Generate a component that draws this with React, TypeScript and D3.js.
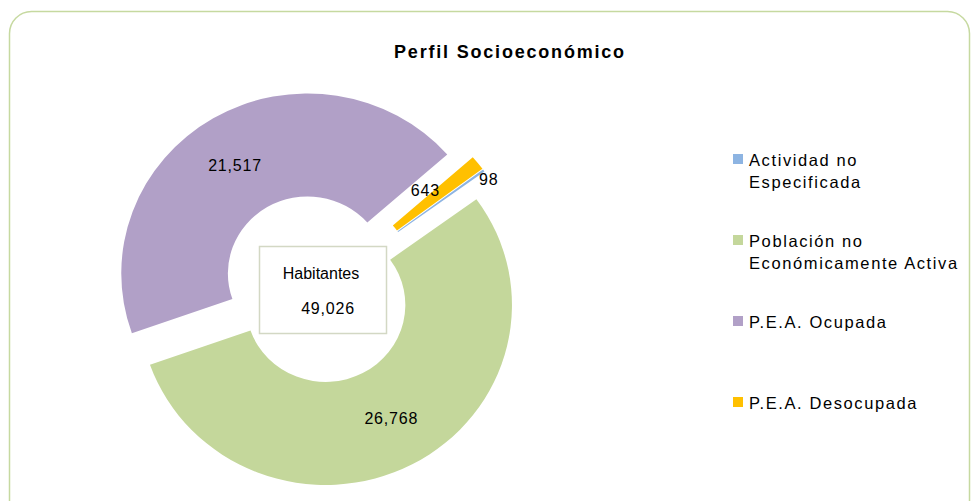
import React from 'react';
import * as d3 from 'd3';

// ---- data ----
const categories = [
  'Actividad no Especificada',
  'Población no Económicamente Activa',
  'P.E.A. Ocupada',
  'P.E.A. Desocupada',
];
const legendLines = [
  ['Actividad no', 'Especificada'],
  ['Población no', 'Económicamente Activa'],
  ['P.E.A. Ocupada'],
  ['P.E.A. Desocupada'],
];
const values = [98, 26768, 21517, 643];
const colors = ['#8DB4E2', '#C4D79B', '#B1A0C7', '#FFC000'];
const chartTitle = 'Perfil Socioeconómico';
const centerTitle = 'Habitantes';

// ---- layout / style ----
const W = 973;
const H = 501;
const CX = 317;
const CY = 289;
const R_OUT = 180;
const R_IN = 77;
const SX = 1.035;
const START_DEG = 53.3;
const explode = [20, 18, 18, 20];
const labelRadius = [179, 130, 129, 124];
const labelAngleShift = [3.2, -1.5, -2.5, -5];
const legendTop = [154, 235, 316, 397];
const FONT = '"Liberation Sans", Arial, sans-serif';

export default function App() {
  const fmt = d3.format(',');
  const total = d3.sum(values);
  const start = (START_DEG * Math.PI) / 180;
  const pie = d3
    .pie<number>()
    .sort(null)
    .startAngle(start)
    .endAngle(start + 2 * Math.PI);
  const arcs = pie(values);
  const arcGen = d3.arc<d3.PieArcDatum<number>>().innerRadius(R_IN).outerRadius(R_OUT);

  return (
    <svg
      width={W}
      height={H}
      style={{ position: 'absolute', left: 0, top: 0, display: 'block', background: '#fff' }}
      fontFamily={FONT}
    >
      <rect x={9.5} y={11.5} width={960} height={540} rx={22} ry={22} fill="#fff" stroke="#c6d9a0" strokeWidth={1.5} />
      <text x={510} y={58} textAnchor="middle" fontSize={18} fontWeight="bold" letterSpacing={1.8} fill="#000">
        {chartTitle}
      </text>

      <g transform={`translate(${CX},${CY}) scale(${SX},1)`}>
        {arcs.map((a, i) => {
          const mid = (a.startAngle + a.endAngle) / 2;
          const dx = explode[i] * Math.sin(mid);
          const dy = -explode[i] * Math.cos(mid);
          return (
            <path key={i} d={arcGen(a) || ''} fill={colors[i]} transform={`translate(${dx},${dy})`} />
          );
        })}
      </g>

      {arcs.map((a, i) => {
        const mid = (a.startAngle + a.endAngle) / 2;
        const la = mid + (labelAngleShift[i] * Math.PI) / 180;
        const ox = explode[i] * Math.sin(mid);
        const oy = -explode[i] * Math.cos(mid);
        const x = CX + SX * (ox + labelRadius[i] * Math.sin(la));
        const y = CY + oy - labelRadius[i] * Math.cos(la);
        return (
          <text key={i} x={x} y={y + 6} textAnchor="middle" fontSize={16} letterSpacing={0.8} fill="#000">
            {fmt(values[i])}
          </text>
        );
      })}

      <rect x={259.5} y={246.5} width={127} height={87} fill="#fff" stroke="#d3d8c4" strokeWidth={1.5} />
      <text x={321} y={279} textAnchor="middle" fontSize={16} fill="#000">
        {centerTitle}
      </text>
      <text x={328} y={314} textAnchor="middle" fontSize={16} letterSpacing={0.8} fill="#000">
        {fmt(total)}
      </text>

      {categories.map((c, i) => (
        <g key={c}>
          <rect x={733} y={legendTop[i]} width={10} height={10} fill={colors[i]} />
          {legendLines[i].map((ln, j) => (
            <text key={j} x={749} y={legendTop[i] + 12 + j * 22} fontSize={16.5} letterSpacing={1.6} fill="#000">
              {ln}
            </text>
          ))}
        </g>
      ))}
    </svg>
  );
}
